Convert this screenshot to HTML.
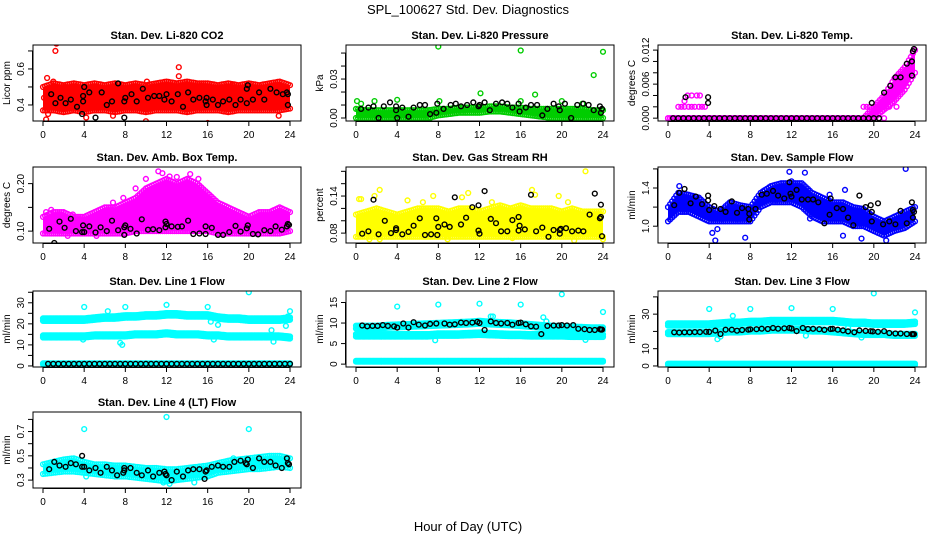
<!DOCTYPE html>
<html><head><meta charset="utf-8"><title>SPL_100627 Std. Dev. Diagnostics</title>
<style>
html,body{margin:0;padding:0;background:#fff;}
svg{display:block;font-family:"Liberation Sans",Arial,sans-serif;}
</style></head>
<body>
<svg id="chart" width="936" height="540" viewBox="0 0 936 540" xmlns="http://www.w3.org/2000/svg">
<rect width="936" height="540" fill="#fff"/>
<text x="468" y="14" font-size="13" text-anchor="middle">SPL_100627  Std. Dev. Diagnostics</text>
<text x="468" y="531" font-size="13" text-anchor="middle">Hour of Day (UTC)</text>
</svg>
<script>
// ---------- data (hourly bands 0..24, outliers and black points) ----------
const hours = [0,1,2,3,4,5,6,7,8,9,10,11,12,13,14,15,16,17,18,19,20,21,22,23,24];
const xTicks = [0,4,8,12,16,20,24];

const co2Lo = [0.37,0.37,0.36,0.37,0.36,0.37,0.37,0.36,0.37,0.37,0.36,0.37,0.37,0.37,0.36,0.37,0.37,0.37,0.36,0.37,0.37,0.37,0.37,0.37,0.38];
const co2Hi = [0.50,0.52,0.51,0.52,0.51,0.52,0.51,0.52,0.51,0.52,0.51,0.52,0.53,0.52,0.53,0.52,0.52,0.51,0.52,0.51,0.52,0.51,0.52,0.53,0.51];
const co2Out = [[0.3,0.32],[0.4,0.55],[1.0,0.53],[1.2,0.70],[1.3,0.74],[0.1,0.44],[4.2,0.33],[10.0,0.31],[10.1,0.53],[13.2,0.61],[13.2,0.56],[16.0,0.30],[22.9,0.34],[2.2,0.50],[5.2,0.50],[8.9,0.50],[6.8,0.34],[13.9,0.51],[18.4,0.51],[0.5,0.35]];
const co2Blk = [[0.8,0.46],[1.2,0.41],[1.7,0.44],[2.2,0.41],[2.7,0.43],[3.3,0.39],[3.8,0.35],[4.0,0.50],[3.9,0.42],[3.9,0.45],[4.5,0.47],[5.1,0.33],[5.7,0.47],[6.2,0.40],[6.7,0.42],[7.3,0.52],[7.9,0.33],[7.9,0.42],[8.0,0.44],[8.6,0.46],[9.1,0.42],[9.7,0.49],[10.2,0.44],[10.8,0.45],[11.3,0.45],[11.8,0.43],[12.0,0.46],[12.5,0.42],[13.1,0.46],[13.6,0.39],[14.1,0.47],[14.6,0.43],[15.2,0.44],[15.8,0.42],[15.9,0.40],[15.9,0.44],[16.5,0.43],[17.0,0.40],[17.5,0.42],[18.1,0.43],[18.7,0.40],[19.2,0.43],[19.8,0.41],[19.8,0.49],[19.9,0.51],[20.4,0.43],[21.0,0.47],[21.5,0.43],[22.1,0.49],[22.7,0.47],[23.3,0.46],[23.7,0.47],[23.8,0.40],[23.8,0.46]];

const presLo = [0,0,0,0,0,0,0,0,0.002,0.003,0.004,0.004,0.004,0.005,0.005,0.004,0.003,0.002,0.001,0,0,0,0,0,0];
const presHi = [0.007,0.006,0.006,0.006,0.006,0.006,0.006,0.006,0.007,0.007,0.008,0.008,0.008,0.009,0.009,0.008,0.008,0.007,0.007,0.007,0.007,0.007,0.007,0.006,0.006];
const presOut = [[8,0.055],[16,0.052],[24,0.051],[23.1,0.033],[12.1,0.019],[17.4,0.018],[0.1,0.013],[0.5,0.011],[1.8,0.013],[4,0.014],[8.1,0.013],[20,0.013],[16,0.013],[22,0.011],[7.2,0]];
const presBlk = [[0.5,0.007],[1.2,0.008],[1.7,0.009],[2.2,0.0],[2.7,0.009],[3.3,0.012],[3.9,0.009],[3.9,0.006],[4,0.0],[4.5,0.008],[5.1,0.001],[5.6,0.008],[6.2,0.010],[6.7,0.010],[7.2,0.003],[7.8,0.004],[7.9,0.011],[8.5,0.007],[9.2,0.010],[9.7,0.011],[10.2,0.009],[10.8,0.010],[11.4,0.012],[11.9,0.009],[12.0,0.010],[12.5,0.012],[13.0,0.006],[13.6,0.011],[14.2,0.012],[14.7,0.011],[15.2,0.008],[15.8,0.011],[15.9,0.005],[16.5,0.008],[17.0,0.010],[17.6,0.010],[18.1,0.002],[18.6,0.007],[19.2,0.011],[19.7,0.009],[19.8,0.006],[20.3,0.011],[20.9,0.000],[21.5,0.010],[22.1,0.011],[22.6,0.010],[23.1,0.006],[23.7,0.009],[23.8,0.004],[23.9,0.007]];

const tempLo = [0,0,0,0,0,0,0,0,0,0,0,0,0,0,0,0,0,0,0,0,0,0.0015,0.003,0.005,0.008];
const tempHi = [0,0,0,0,0,0,0,0,0,0,0,0,0,0,0,0,0,0,0,0,0.002,0.004,0.007,0.009,0.012];
const tempOut = [[1.0,0.002],[1.3,0.002],[1.6,0.002],[2.0,0.002],[2.3,0.002],[2.6,0.002],[3.0,0.002],[3.3,0.002],[3.6,0.002],[1.6,0.003],[1.9,0.004],[2.3,0.004],[2.8,0.004],[3.1,0.004],[19.0,0.002],[19.3,0.002],[19.6,0.002],[20.2,0.002],[20.5,0.002],[21.0,0.002],[21.5,0.002],[22.2,0.002],[21.0,0],[20.5,0]];
const tempBlk = [[0.5,0],[1.0,0],[1.5,0],[2.0,0],[2.5,0],[3.0,0],[3.5,0],[4.0,0],[4.5,0],[5.0,0],[5.5,0],[6.0,0],[6.5,0],[7.0,0],[7.5,0],[8.0,0],[8.5,0],[9.0,0],[9.5,0],[10.0,0],[10.5,0],[11.0,0],[11.5,0],[12.0,0],[12.5,0],[13.0,0],[13.5,0],[14.0,0],[14.5,0],[15.0,0],[15.5,0],[16.0,0],[16.5,0],[17.0,0],[17.5,0],[18.0,0],[18.5,0],[19.0,0],[19.5,0],[20.0,0],[20.5,0],[1.7,0.0037],[3.9,0.0037],[3.9,0.0027],[19.8,0.0027],[21.0,0.0045],[21.6,0.0057],[22.1,0.0072],[22.6,0.0072],[23.2,0.0096],[23.7,0.0075],[23.7,0.0100],[23.8,0.0118],[23.9,0.0122]];

const ambLo = [0.095,0.095,0.095,0.095,0.095,0.095,0.095,0.095,0.095,0.10,0.10,0.10,0.10,0.10,0.10,0.10,0.10,0.095,0.095,0.095,0.095,0.095,0.095,0.095,0.10];
const ambHi = [0.13,0.14,0.14,0.13,0.13,0.14,0.15,0.15,0.16,0.17,0.19,0.20,0.21,0.20,0.21,0.20,0.18,0.16,0.15,0.14,0.13,0.14,0.14,0.15,0.14];
const ambOut = [[11.2,0.226],[11.6,0.222],[14.3,0.22],[10.0,0.21],[9.0,0.19],[0.3,0.14],[0.8,0.145],[2.9,0.135],[2.4,0.09],[5.2,0.09],[12.3,0.215],[13.0,0.214],[15.1,0.21],[7.8,0.17],[6.8,0.16]];
const ambBlk = [[0.6,0.105],[1.1,0.075],[1.6,0.12],[2.1,0.107],[2.7,0.126],[3.2,0.10],[3.8,0.098],[3.9,0.112],[4.0,0.098],[4.5,0.11],[5.1,0.097],[5.6,0.108],[6.2,0.10],[6.7,0.122],[7.3,0.102],[7.9,0.092],[7.9,0.108],[8.0,0.112],[8.5,0.105],[9.1,0.095],[9.6,0.125],[10.2,0.103],[10.7,0.104],[11.3,0.102],[11.9,0.12],[11.9,0.108],[12.0,0.115],[12.5,0.11],[13.1,0.109],[13.5,0.11],[14.1,0.122],[14.6,0.094],[15.2,0.095],[15.8,0.094],[15.8,0.11],[16.4,0.107],[17.0,0.092],[17.5,0.092],[18.1,0.098],[18.7,0.111],[19.2,0.099],[19.8,0.106],[19.9,0.112],[20.4,0.094],[20.9,0.093],[21.5,0.102],[22.1,0.10],[22.6,0.11],[23.2,0.103],[23.7,0.11],[23.8,0.115],[23.9,0.113]];

const rhLo = [0.074,0.074,0.074,0.074,0.074,0.074,0.074,0.074,0.074,0.074,0.074,0.074,0.074,0.074,0.074,0.074,0.074,0.074,0.074,0.074,0.074,0.074,0.074,0.074,0.074];
const rhHi = [0.11,0.115,0.12,0.115,0.11,0.115,0.12,0.12,0.12,0.115,0.12,0.12,0.115,0.12,0.125,0.12,0.125,0.12,0.12,0.12,0.115,0.12,0.115,0.115,0.115];
const rhOut = [[0.3,0.135],[2.3,0.15],[1.8,0.14],[7.5,0.14],[10.9,0.145],[17.1,0.15],[22.3,0.18],[19.7,0.14],[24,0.07],[1.3,0.07],[2.3,0.07],[8.9,0.07],[15.2,0.072],[21.2,0.068],[17.4,0.142],[0.5,0.135],[5,0.133],[13.2,0.13],[6.5,0.13],[10.3,0.138],[20.6,0.13]];
const rhBlk = [[0.6,0.079],[1.2,0.083],[1.7,0.134],[2.2,0.078],[2.8,0.10],[3.4,0.08],[3.9,0.085],[3.9,0.088],[4.5,0.078],[5.1,0.082],[5.6,0.092],[6.2,0.104],[6.7,0.077],[7.3,0.078],[7.8,0.104],[7.9,0.077],[8.0,0.09],[8.6,0.094],[9.1,0.09],[9.6,0.138],[10.2,0.094],[10.7,0.105],[11.3,0.122],[11.9,0.125],[11.9,0.084],[12.0,0.079],[12.5,0.148],[13.1,0.103],[13.6,0.096],[14.1,0.083],[14.7,0.083],[15.2,0.101],[15.8,0.106],[15.8,0.084],[15.9,0.092],[16.4,0.086],[17.0,0.142],[17.5,0.083],[18.1,0.089],[18.7,0.074],[19.2,0.085],[19.8,0.079],[19.8,0.085],[19.9,0.087],[20.4,0.088],[21.0,0.083],[21.6,0.084],[22.1,0.083],[22.7,0.11],[23.2,0.144],[23.7,0.104],[23.8,0.126],[23.8,0.106],[23.9,0.075]];

const flowLo = [1.05,1.15,1.15,1.10,1.05,1.05,1.05,1.05,1.05,1.20,1.25,1.25,1.25,1.20,1.10,1.05,1.05,1.05,1.00,1.00,0.95,0.90,0.95,0.98,1.05];
const flowHi = [1.20,1.35,1.33,1.30,1.20,1.15,1.25,1.22,1.20,1.35,1.42,1.45,1.45,1.45,1.35,1.30,1.25,1.25,1.20,1.18,1.10,1.05,1.10,1.15,1.20];
const flowOut = [[23.1,1.60],[11.8,1.57],[13.3,1.56],[4.6,0.85],[7.5,0.88],[18.8,0.87],[4.3,0.93],[17.2,1.38],[17.0,0.90],[1.1,1.42],[12.0,1.47],[13.8,1.08],[21.2,0.85],[4.8,0.97],[15.7,1.33]];
const flowBlk = [[0.6,1.22],[1.1,1.35],[1.6,1.39],[2.2,1.24],[2.7,1.31],[3.3,1.23],[3.9,1.32],[3.9,1.27],[4.0,1.17],[4.5,1.21],[5.1,1.18],[5.6,1.15],[6.2,1.26],[6.7,1.14],[7.2,1.19],[7.8,1.18],[7.9,1.13],[7.9,1.07],[8.5,1.18],[9.1,1.33],[9.6,1.34],[10.2,1.37],[10.7,1.32],[11.3,1.29],[11.8,1.46],[11.9,1.34],[12.0,1.31],[12.5,1.38],[13.0,1.28],[13.6,1.28],[14.1,1.28],[14.6,1.25],[15.2,1.03],[15.7,1.12],[15.8,1.29],[16.4,1.19],[17.0,1.18],[17.5,1.09],[18.0,1.01],[18.6,1.32],[19.2,1.20],[19.7,1.22],[19.8,1.15],[19.8,1.05],[20.4,1.24],[20.9,1.02],[21.5,1.05],[22.1,1.02],[22.6,1.16],[23.2,1.03],[23.7,1.25],[23.8,1.09],[23.8,1.17],[23.9,1.15]];

const l1Upper = [22,22,22,22,22,22.5,23,23,23.5,23.5,24,24,24.5,24.5,24,24,24,23,22.5,22.5,22,22,22,22,22.5];
const l1Middle = [14,14,14,14,14,14.5,14.5,14.5,14.5,15,15,15,15.5,15,15,15,14.5,14.5,14,14,14,14,14,14,13.5];
const l1Bottom = [1,1,1,1,1,1,1,1,1,1,1,1,1,1,1,1,1,1,1,1,1,1,1,1,1];
const l1Out = [[4,28],[6.3,26],[8,28],[12,29],[16,28],[20,35],[24,26],[7.7,10],[7.5,11],[3.9,12.5],[16.3,21],[17,19.5],[17.5,22.5],[22.2,17],[22.4,11.5],[23.6,19],[23.8,23.5],[16.6,12.5]];
const l1Blk = [[0.5,1],[1,1],[1.5,1],[2,1],[2.5,1],[3,1],[3.5,1],[4,1],[4.5,1],[5,1],[5.5,1],[6,1],[6.5,1],[7,1],[7.5,1],[8,1],[8.5,1],[9,1],[9.5,1],[10,1],[10.5,1],[11,1],[11.5,1],[12,1],[12.5,1],[13,1],[13.5,1],[14,1],[14.5,1],[15,1],[15.5,1],[16,1],[16.5,1],[17,1],[17.5,1],[18,1],[18.5,1],[19,1],[19.5,1],[20,1],[20.5,1],[21,1],[21.5,1],[22,1],[22.5,1],[23,1],[23.5,1],[24,1]];

const l2Upper = [9,9,9,9.2,9.3,9.4,9.5,9.6,9.7,9.8,9.9,10,10.2,10,9.9,9.8,9.6,9.4,9.2,9,8.9,8.8,8.7,8.6,8.6];
const l2Middle = [7,7,7,7,7,7,7,7,7.2,7.2,7.2,7.3,7.4,7.3,7.2,7.1,7.1,7,7,7,7,6.9,6.9,6.9,6.9];
const l2Bottom = [0.7,0.7,0.7,0.7,0.7,0.7,0.7,0.7,0.7,0.7,0.7,0.7,0.7,0.7,0.7,0.7,0.7,0.7,0.7,0.7,0.7,0.7,0.7,0.7,0.7];
const l2Out = [[4,14],[8,14.5],[12,14.7],[16,14.5],[20,17],[24,12.7],[13.1,11.6],[13.3,11.6],[7.7,5.8],[22.3,5.9],[18.2,11.4],[18.5,10.4]];
const l2Blk = [[0.6,9.4],[1.1,9.2],[1.6,9.3],[2.1,9.3],[2.6,9.5],[3.1,9.3],[3.7,9.2],[4.0,8.9],[4.6,9.9],[5.1,8.9],[5.6,10.2],[6.1,9.6],[6.7,9.4],[7.2,9.8],[7.8,9.9],[8.6,9.9],[9.1,9.6],[9.6,9.7],[10.2,10.1],[10.7,10.0],[11.3,10.1],[11.8,10.3],[12.0,10.0],[12.5,8.3],[13.1,10.4],[13.6,10.0],[14.1,9.9],[14.7,10.0],[15.2,9.6],[15.8,10.0],[16.0,10.1],[16.5,9.7],[17.0,9.2],[17.5,9.1],[18.0,7.3],[18.6,9.3],[19.2,9.4],[19.7,9.4],[20.0,9.5],[20.5,9.4],[21.1,9.5],[21.6,8.6],[22.2,8.5],[22.7,8.3],[23.2,8.3],[23.7,8.5],[23.8,8.4],[23.9,8.4]];

const l3Upper = [24,24,24,24,24,24.5,25,25,25.5,25.5,26,26,26,26,26,26,26,25.5,25,25,24.5,24.5,24.5,24.5,25];
const l3Middle = [19,19,19,19,19,19.5,20,20,20.5,20.5,21,21,21,21,20.5,20.5,20,19.5,19,18.5,18.5,18.5,18,18,18];
const l3Bottom = [1,1,1,1,1,1,1,1,1,1,1,1,1,1,1,1,1,1,1,1,1,1,1,1,1];
const l3Out = [[4,33],[6.3,29],[8,33],[12,33.5],[16,33],[20,42],[24,31],[4.8,15.5],[5.1,17],[18.8,16.5],[13.4,17.5],[17.2,26],[17.5,22]];
const l3Blk = [[0.6,19.5],[1.1,19.3],[1.6,19.5],[2.1,19.5],[2.6,19.6],[3.1,19.6],[3.7,19.8],[4.0,19.7],[4.6,20.5],[5.1,18.5],[5.6,21.0],[6.2,21.0],[6.7,20.4],[7.2,20.8],[7.8,21.0],[8.0,21.2],[8.6,21.3],[9.1,21.6],[9.7,21.4],[10.2,22.0],[10.7,21.6],[11.3,21.8],[11.8,22.0],[12.0,21.7],[12.5,20.2],[13.1,22.0],[13.6,21.4],[14.1,21.5],[14.7,21.3],[15.2,20.9],[15.8,21.4],[16.0,21.5],[16.5,21.0],[17.0,20.6],[17.5,20.0],[18.1,19.5],[18.6,20.6],[19.2,20.3],[19.7,20.1],[19.9,20.0],[20.4,19.8],[21.0,20.1],[21.5,19.1],[22.1,18.8],[22.6,18.8],[23.2,18.5],[23.7,18.4],[23.8,18.5],[23.9,18.4]];

const l4Lo = [0.35,0.36,0.37,0.37,0.36,0.35,0.34,0.33,0.33,0.32,0.31,0.30,0.29,0.30,0.31,0.32,0.33,0.36,0.37,0.38,0.39,0.39,0.40,0.41,0.40];
const l4Hi = [0.43,0.45,0.47,0.48,0.45,0.43,0.43,0.42,0.42,0.41,0.40,0.40,0.39,0.39,0.40,0.41,0.42,0.44,0.46,0.47,0.48,0.49,0.50,0.50,0.48];
const l4Out = [[4,0.72],[12,0.82],[20,0.72],[4.2,0.33],[12.3,0.27],[14.7,0.28],[11.7,0.28],[18.5,0.48]];
const l4Blk = [[0.6,0.39],[1.1,0.45],[1.6,0.42],[2.2,0.41],[2.7,0.44],[3.2,0.43],[3.8,0.50],[3.8,0.41],[4.0,0.41],[4.5,0.38],[5.1,0.40],[5.6,0.36],[6.2,0.41],[6.7,0.38],[7.2,0.34],[7.8,0.36],[7.9,0.40],[7.9,0.38],[8.5,0.40],[9.1,0.36],[9.6,0.34],[10.2,0.38],[10.7,0.33],[11.3,0.36],[11.8,0.37],[11.9,0.35],[12.0,0.34],[12.5,0.30],[13.0,0.37],[13.6,0.33],[14.1,0.38],[14.6,0.39],[15.2,0.39],[15.7,0.31],[15.8,0.37],[15.9,0.38],[16.4,0.41],[17.0,0.42],[17.5,0.41],[18.1,0.41],[18.6,0.45],[19.2,0.46],[19.7,0.44],[19.8,0.43],[19.9,0.47],[20.4,0.40],[21.0,0.48],[21.5,0.45],[22.1,0.45],[22.6,0.42],[23.2,0.40],[23.7,0.48],[23.8,0.44],[23.9,0.43]];

// ---------- layout ----------
const NS = "http://www.w3.org/2000/svg";
const svg = document.getElementById('chart');
const colX0 = [43, 356, 668];
const rowTop = [45, 167, 291, 412];
const BOXH = 76, XSPAN = 247;

const panels = [
 {key:'co2', title:'Stan. Dev. Li-820 CO2', yt:'Licor ppm', c:0, r:0, ylim:[0.311,0.733], ticks:[0.4,0.5,0.6,0.7], labels:{'0.4':'0.4','0.6':'0.6'}, col:'#ff0000', bands:[[co2Lo,co2Hi]], out:co2Out, blk:co2Blk},
 {key:'pressure', title:'Stan. Dev. Li-820 Pressure', yt:'kPa', c:1, r:0, ylim:[-0.0023,0.0562], ticks:[0,0.01,0.02,0.03,0.04,0.05], labels:{'0':'0.00','0.03':'0.03'}, col:'#00cd00', bands:[[presLo,presHi]], out:presOut, blk:presBlk},
 {key:'temp', title:'Stan. Dev. Li-820 Temp.', yt:'degrees C', c:2, r:0, ylim:[-0.0005,0.0129], ticks:[0,0.002,0.004,0.006,0.008,0.010,0.012], labels:{'0':'0.000','0.006':'0.006','0.012':'0.012'}, col:'#ff00ff', bands:[[tempLo,tempHi]], out:tempOut, blk:tempBlk},
 {key:'ambbox', title:'Stan. Dev. Amb. Box Temp.', yt:'degrees C', c:0, r:1, ylim:[0.075,0.235], ticks:[0.10,0.15,0.20], labels:{'0.1':'0.10','0.2':'0.20'}, col:'#ff00ff', bands:[[ambLo,ambHi]], out:ambOut, blk:ambBlk},
 {key:'rh', title:'Stan. Dev. Gas Stream RH', yt:'percent', c:1, r:1, ylim:[0.064,0.187], ticks:[0.08,0.10,0.12,0.14,0.16,0.18], labels:{'0.08':'0.08','0.14':'0.14'}, col:'#ffff00', bands:[[rhLo,rhHi]], out:rhOut, blk:rhBlk},
 {key:'sampleflow', title:'Stan. Dev. Sample Flow', yt:'ml/min', c:2, r:1, ylim:[0.824,1.62], ticks:[1.0,1.2,1.4,1.6], labels:{'1':'1.0','1.4':'1.4'}, col:'#0000ff', bands:[[flowLo,flowHi]], out:flowOut, blk:flowBlk},
 {key:'line1', title:'Stan. Dev. Line 1 Flow', yt:'ml/min', c:0, r:2, ylim:[-0.5,35.6], ticks:[0,5,10,15,20,25,30,35], labels:{'0':'0','10':'10','20':'20','30':'30'}, col:'#00ffff', lines:[[l1Upper,0.6],[l1Middle,0.5],[l1Bottom,0.2]], out:l1Out, blk:l1Blk},
 {key:'line2', title:'Stan. Dev. Line 2 Flow', yt:'ml/min', c:1, r:2, ylim:[-0.7,17.8], ticks:[0,5,10,15], labels:{'0':'0','5':'5','10':'10','15':'15'}, col:'#00ffff', lines:[[l2Upper,0.35],[l2Middle,0.3],[l2Bottom,0.1]], out:l2Out, blk:l2Blk},
 {key:'line3', title:'Stan. Dev. Line 3 Flow', yt:'ml/min', c:2, r:2, ylim:[-0.6,43.4], ticks:[0,10,20,30,40], labels:{'0':'0','10':'10','30':'30'}, col:'#00ffff', lines:[[l3Upper,0.7],[l3Middle,0.6],[l3Bottom,0.3]], out:l3Out, blk:l3Blk},
 {key:'line4', title:'Stan. Dev. Line 4 (LT) Flow', yt:'ml/min', c:0, r:3, ylim:[0.235,0.861], ticks:[0.3,0.4,0.5,0.6,0.7,0.8], labels:{'0.3':'0.3','0.5':'0.5','0.7':'0.7'}, col:'#00ffff', bands:[[l4Lo,l4Hi]], out:l4Out, blk:l4Blk}
];

function mk(tag, attrs, parent){
  const e = document.createElementNS(NS, tag);
  for (const k in attrs) e.setAttribute(k, attrs[k]);
  (parent||svg).appendChild(e);
  return e;
}
function interp(arr, t){
  const i = Math.min(Math.floor(t), 23);
  const f = t - i;
  return arr[i]*(1-f) + arr[i+1]*f;
}

panels.forEach(p => {
  const x0 = colX0[p.c];
  const top = rowTop[p.r], bot = top + BOXH;
  const left = x0 - 10, right = x0 + XSPAN + 11;
  const sx = t => x0 + t / 24 * XSPAN;
  const sy = v => bot - (v - p.ylim[0]) / (p.ylim[1] - p.ylim[0]) * BOXH;

  const g = mk('g', {});
  
  

  const tt = mk('text', {x:(left+right)/2, y:top-6, 'font-size':11, 'font-weight':'bold', 'text-anchor':'middle'}, g);
  tt.textContent = p.title;
  
  

  const clip = mk('clipPath', {id:'clip-'+p.key}, g);
  mk('rect', {x:left, y:top, width:right-left, height:BOXH}, clip);
  const marks = mk('g', {'clip-path':'url(#clip-'+p.key+')'}, g);
  
  

  const circ = (t, v, color, name) => {
    const c = mk('circle', {cx:sx(t).toFixed(1), cy:sy(v).toFixed(1), r:2.4, fill:'none', stroke:color, 'stroke-width':1.4}, marks);
    
    
  };

  // bands (lo/hi)
  (p.bands||[]).forEach(([lo, hi]) => {
    let pts = hours.map(h => sx(h).toFixed(1)+','+sy(hi[h]).toFixed(1));
    pts = pts.concat(hours.slice().reverse().map(h => sx(h).toFixed(1)+','+sy(lo[h]).toFixed(1)));
    const poly = mk('polygon', {points:pts.join(' '), fill:p.col, stroke:'none'}, marks);
    
    
    for (let t = 0; t <= 24.001; t += 0.2) {
      circ(t, interp(lo, t), p.col, 'point-' + p.key);
      circ(t, interp(hi, t), p.col, 'point-' + p.key);
    }
  });
  // line bands (center + spread)
  (p.lines||[]).forEach(([cen, spr]) => {
    for (let t = 0; t <= 24.001; t += 0.12) {
      const v = interp(cen, t);
      circ(t, v - spr, p.col, 'point-' + p.key);
      circ(t, v + spr, p.col, 'point-' + p.key);
    }
  });
  p.out.forEach(([t, v]) => circ(t, v, p.col, 'outlier-' + p.key));
  p.blk.forEach(([t, v]) => circ(t, v, '#000', 'black-point-' + p.key));

  // box
  const box = mk('rect', {x:left, y:top, width:right-left, height:BOXH, fill:'none', stroke:'#000', 'stroke-width':1}, g);
  
  

  // x axis
  mk('line', {x1:sx(0), x2:sx(24), y1:bot+0.5, y2:bot+0.5, stroke:'#000'}, g);
  xTicks.forEach(t => {
    mk('line', {x1:sx(t), x2:sx(t), y1:bot, y2:bot+5, stroke:'#000'}, g);
    const lab = mk('text', {x:sx(t), y:bot+17, 'font-size':10, 'text-anchor':'middle'}, g);
    lab.textContent = t;
    
    
  });
  // y axis
  const yl = p.ticks;
  mk('line', {x1:left-0.5, x2:left-0.5, y1:sy(yl[0]), y2:sy(yl[yl.length-1]), stroke:'#000'}, g);
  yl.forEach(v => {
    const y = sy(v);
    mk('line', {x1:left-5, x2:left, y1:y, y2:y, stroke:'#000'}, g);
    const key = String(+v.toFixed(6));
    if (p.labels[key] !== undefined) {
      const lab = mk('text', {x:left-9, y:y, 'font-size':10, 'text-anchor':'middle', transform:'rotate(-90 '+(left-9)+' '+y+')'}, g);
      lab.textContent = p.labels[key];
      
      
    }
  });
  const ytx = left - 23, yty = (top+bot)/2;
  const yt = mk('text', {x:ytx, y:yty, 'font-size':10, 'text-anchor':'middle', transform:'rotate(-90 '+ytx+' '+yty+')'}, g);
  yt.textContent = p.yt;
  
  
});
</script>
</body></html>
